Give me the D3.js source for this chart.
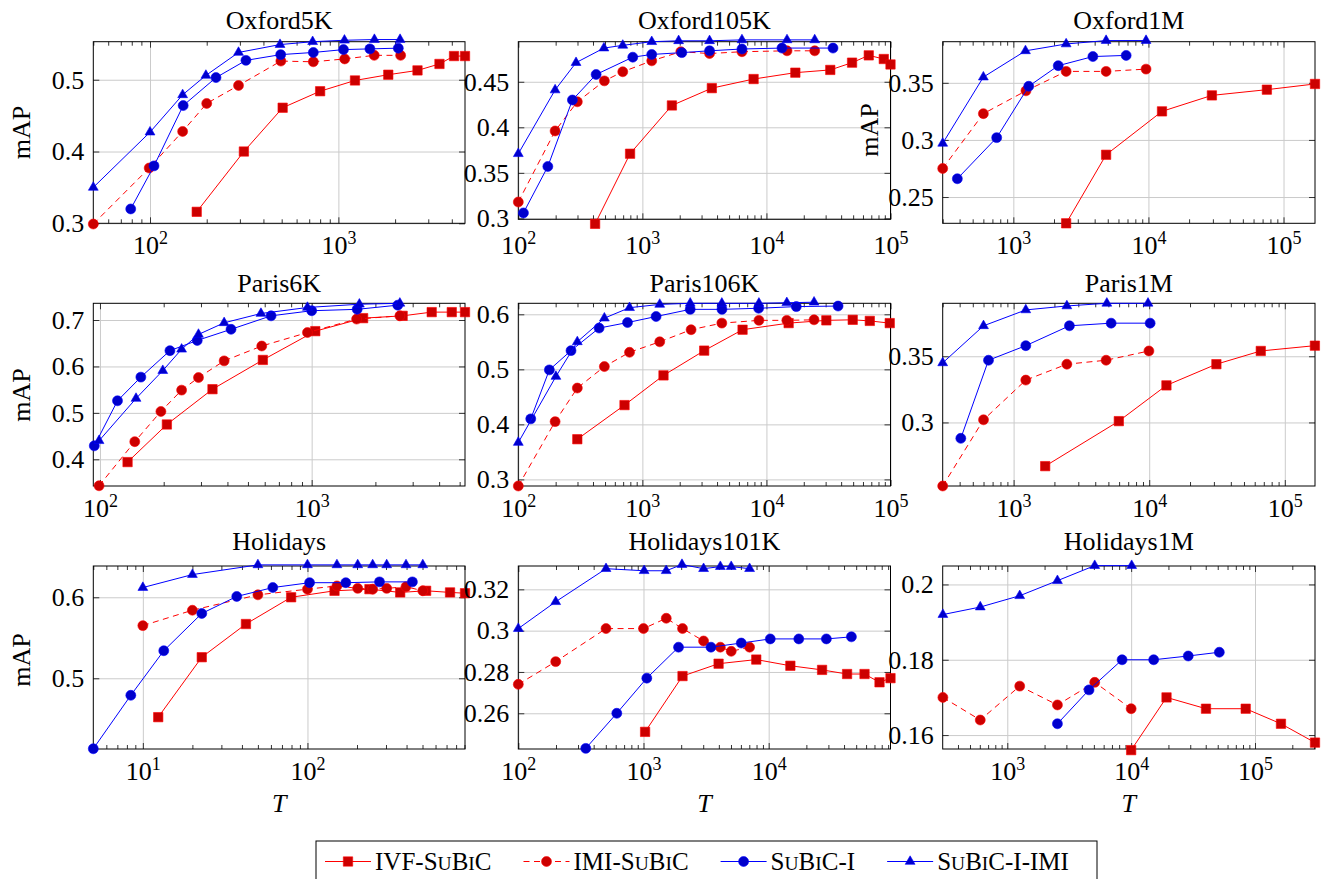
<!DOCTYPE html>
<html>
<head>
<meta charset="utf-8">
<script src="https://cdn.jsdelivr.net/npm/d3@7"></script>
<style>
  body { margin: 0; background: white; }
  text { font-family: "Liberation Serif", "Times New Roman", serif; }
</style>
</head>
<body>
<div id="container"></div>
<script>
let w = 1321;
let h = 879;

// ---- data ----
let panelTitles = ["Oxford5K", "Oxford105K", "Oxford1M", "Paris6K", "Paris106K", "Paris1M", "Holidays", "Holidays101K", "Holidays1M"];
let seriesNames = ["IVF-SuBiC", "IMI-SuBiC", "SuBiC-I", "SuBiC-I-IMI"];

let xDomains = [[50, 4700], [100, 100000], [300, 171000], [93, 5300], [100, 100000], [300, 167000], [5, 906], [100, 94000], [301, 305000]];
let yDomains = [[0.3, 0.553], [0.299, 0.494], [0.227, 0.386], [0.3425, 0.736], [0.288, 0.62], [0.252, 0.39], [0.4127, 0.6386], [0.2427, 0.3313], [0.1563, 0.2049]];
let yTickValues = [[0.3, 0.4, 0.5], [0.3, 0.35, 0.4, 0.45], [0.25, 0.3, 0.35], [0.4, 0.5, 0.6, 0.7], [0.3, 0.4, 0.5, 0.6], [0.3, 0.35], [0.5, 0.6], [0.26, 0.28, 0.3, 0.32], [0.16, 0.18, 0.2]];
let xTickExponents = [[2, 3], [2, 3, 4, 5], [3, 4, 5], [2, 3], [2, 3, 4, 5], [3, 4, 5], [1, 2], [2, 3, 4], [3, 4, 5]];

// each panel: [IVF-SuBiC, IMI-SuBiC, SuBiC-I, SuBiC-I-IMI], points are [T, mAP]
let oxford5K = [
  [[177,0.316],[315,0.400],[506,0.461],[800,0.484],[1225,0.499],[1840,0.507],[2630,0.513],[3440,0.522],[4110,0.533],[4700,0.533]],
  [[50,0.299],[99,0.377],[149,0.428],[200,0.467],[295,0.492],[495,0.526],[736,0.525],[1080,0.529],[1550,0.534],[2140,0.534]],
  [[79,0.320],[105,0.380],[150,0.464],[224,0.503],[323,0.527],[494,0.535],[736,0.538],[1064,0.542],[1470,0.543],[2080,0.544]],
  [[50,0.350],[100,0.427],[149,0.479],[198,0.506],[295,0.538],[490,0.549],[730,0.553],[1077,0.555],[1553,0.556],[2125,0.556]]
];
let oxford105K = [
  [[416,0.294],[796,0.371],[1730,0.424],[3630,0.443],[7880,0.453],[17100,0.460],[32700,0.463],[49000,0.471],[66800,0.479],[88300,0.475],[100000,0.469]],
  [[100,0.318],[198,0.396],[299,0.428],[494,0.451],[695,0.461],[1190,0.473],[2040,0.483],[3480,0.481],[6350,0.483],[14650,0.484],[24500,0.484]],
  [[110,0.306],[173,0.357],[273,0.430],[424,0.458],[837,0.477],[1190,0.480],[2080,0.482],[3480,0.484],[6350,0.486],[13340,0.487],[34400,0.487]],
  [[100,0.371],[198,0.441],[292,0.471],[490,0.487],[695,0.490],[1190,0.494],[1960,0.495],[3480,0.495],[6350,0.496],[14650,0.496],[24500,0.496]]
];
let oxford1M = [
  [[2460,0.227],[4860,0.287],[12600,0.325],[29500,0.339],[75300,0.344],[171000,0.349]],
  [[300,0.275],[600,0.323],[1240,0.343],[2460,0.360],[4860,0.360],[9600,0.362]],
  [[385,0.266],[753,0.302],[1300,0.347],[2150,0.365],[3880,0.373],[6840,0.374]],
  [[300,0.297],[600,0.355],[1230,0.378],[2460,0.384],[4860,0.387],[9600,0.387]]
];
let paris6K = [
  [[135,0.394],[207,0.475],[340,0.551],[588,0.614],[1040,0.676],[1750,0.704],[2690,0.709],[3690,0.717],[4590,0.717],[5300,0.717]],
  [[99,0.343],[146,0.438],[194,0.503],[243,0.549],[292,0.576],[386,0.612],[581,0.644],[955,0.673],[1630,0.702],[2610,0.709]],
  [[94,0.429],[121,0.526],[156,0.577],[214,0.634],[288,0.656],[416,0.680],[643,0.709],[1000,0.720],[1640,0.723],[2550,0.732]],
  [[99,0.440],[148,0.531],[198,0.591],[243,0.637],[292,0.669],[386,0.694],[576,0.714],[955,0.727],[1680,0.734],[2610,0.736]]
];
let paris106K = [
  [[299,0.373],[718,0.435],[1480,0.489],[3150,0.534],[6420,0.572],[15100,0.584],[30400,0.589],[49600,0.590],[68100,0.588],[98600,0.584]],
  [[100,0.288],[198,0.405],[299,0.466],[494,0.505],[788,0.531],[1380,0.550],[2470,0.572],[4370,0.584],[8700,0.589],[14600,0.589],[24200,0.590]],
  [[126,0.410],[178,0.499],[266,0.534],[448,0.575],[759,0.585],[1290,0.596],[2430,0.609],[4380,0.609],[8650,0.611],[17400,0.614],[37800,0.615]],
  [[100,0.367],[201,0.487],[299,0.550],[494,0.593],[788,0.612],[1380,0.618],[2430,0.620],[4370,0.620],[8700,0.620],[14600,0.621],[24200,0.622]]
];
let paris1M = [
  [[1710,0.267],[5970,0.301],[13400,0.328],[31300,0.344],[66500,0.354],[166700,0.358]],
  [[300,0.252],[600,0.302],[1230,0.332],[2470,0.344],[4810,0.347],[9950,0.354]],
  [[408,0.288],[653,0.347],[1230,0.358],[2580,0.373],[5240,0.375],[10160,0.375]],
  [[300,0.345],[600,0.373],[1230,0.385],[2470,0.388],[4870,0.390],[9800,0.390]]
];
let holidays = [
  [[12.4,0.452],[22.8,0.526],[42.3,0.567],[79.6,0.600],[146,0.608],[238,0.610],[366,0.606],[526,0.608],[735,0.606],[906,0.605]],
  [[10,0.565],[20,0.584],[50,0.603],[100,0.610],[151,0.614],[202,0.611],[249,0.610],[303,0.611],[397,0.613],[502,0.608]],
  [[5,0.413],[8.45,0.479],[13.4,0.534],[22.8,0.580],[37.2,0.601],[61.6,0.612],[103,0.618],[171,0.618],[274,0.619],[434,0.619]],
  [[10,0.612],[20,0.628],[50,0.640],[100,0.640],[151,0.640],[202,0.640],[249,0.640],[303,0.640],[397,0.640],[502,0.640]]
];
let holidays101K = [
  [[1030,0.251],[2050,0.278],[3980,0.284],[7960,0.286],[14900,0.283],[26700,0.281],[42300,0.279],[58300,0.279],[76800,0.275],[94000,0.277]],
  [[100,0.274],[199,0.285],[502,0.301],[1000,0.301],[1520,0.306],[2050,0.301],[3020,0.295],[4110,0.292],[5020,0.290],[7040,0.292]],
  [[346,0.243],[612,0.260],[1063,0.277],[1905,0.292],[3460,0.292],[6040,0.294],[10300,0.296],[17400,0.296],[28900,0.296],[45800,0.297]],
  [[100,0.301],[199,0.314],[502,0.330],[1012,0.329],[1518,0.329],[2030,0.332],[3020,0.330],[4110,0.331],[5020,0.331],[7040,0.330]]
];
let holidays1M = [
  [[10000,0.156],[19300,0.170],[40200,0.167],[84100,0.167],[162000,0.163],[305000,0.158]],
  [[302,0.170],[605,0.164],[1260,0.173],[2540,0.168],[5080,0.174],[10000,0.167]],
  [[2540,0.163],[4570,0.172],[8450,0.180],[15200,0.180],[28900,0.181],[51500,0.182]],
  [[302,0.192],[605,0.194],[1260,0.197],[2540,0.201],[5080,0.205],[10100,0.205]]
];
let panelData = [oxford5K, oxford105K, oxford1M, paris6K, paris106K, paris1M, holidays, holidays101K, holidays1M];

// ---- styles ----
let lineColors = ["#ff0000", "#ff0000", "#0000ff", "#0000ff"];
let markFills = ["#cc0000", "#cc0000", "#0000cc", "#0000cc"];
let dashes = [null, "6,4.5", null, null];
let symbols = [d3.symbol().type(d3.symbolSquare).size(88),
               d3.symbol().type(d3.symbolCircle).size(78),
               d3.symbol().type(d3.symbolCircle).size(78),
               d3.symbol().type(d3.symbolTriangle).size(42)];

// panel frames (pixels)
let colLeft = [93.3, 518.3, 942.7];
let colRight = [465, 890.5, 1315];
let rowTop = [41.7, 303.3, 566];
let rowBottom = [223.3, 486, 749];
let titleBaseline = [29.3, 291.7, 550];

let viz = d3.select("#container")
  .append("svg")
  .attr("width", w)
  .attr("height", h)
  .style("background-color", "white");

function smallCaps(sel, str, size) {
  for (let ch of str) {
    if (ch >= "a" && ch <= "z") {
      sel.append("tspan").attr("font-size", size * 0.78).text(ch.toUpperCase());
    } else {
      sel.append("tspan").attr("font-size", size).text(ch);
    }
  }
}

function minorTicks(domain) {
  let out = [];
  let k0 = Math.floor(Math.log10(domain[0]));
  let k1 = Math.ceil(Math.log10(domain[1]));
  for (let k = k0; k <= k1; k++) {
    for (let m = 2; m <= 9; m++) {
      let v = m * Math.pow(10, k);
      if (v >= domain[0] && v <= domain[1]) out.push(v);
    }
  }
  return out;
}

panelData.forEach(function (series, i) {
  let col = i % 3;
  let row = Math.floor(i / 3);
  let x0 = colLeft[col], x1 = colRight[col];
  let y0 = rowTop[row];
  let y1 = (i === 1) ? 219.3 : rowBottom[row];

  let xScale = d3.scaleLog().domain(xDomains[i]).range([x0, x1]);
  let yScale = d3.scaleLinear().domain(yDomains[i]).range([y1, y0]);
  let majors = xTickExponents[i].map(k => Math.pow(10, k));
  let minors = minorTicks(xDomains[i]);

  let g = viz.append("g").attr("class", "panel");

  // grid
  g.append("g")
    .attr("transform", "translate(0," + y1 + ")")
    .call(d3.axisBottom(xScale).tickValues(majors).tickSize(-(y1 - y0)).tickFormat(""))
    .call(a => a.select(".domain").remove())
    .selectAll("line").attr("stroke", "#cbcbcb");
  g.append("g")
    .attr("transform", "translate(" + x0 + ",0)")
    .call(d3.axisLeft(yScale).tickValues(yTickValues[i]).tickSize(-(x1 - x0)).tickFormat(""))
    .call(a => a.select(".domain").remove())
    .selectAll("line").attr("stroke", "#cbcbcb");

  // inner ticks on all four sides
  let tickSpecs = [
    [d3.axisBottom, xScale, majors, 6, "translate(0," + y1 + ")"],
    [d3.axisBottom, xScale, minors, 4, "translate(0," + y1 + ")"],
    [d3.axisTop, xScale, majors, 6, "translate(0," + y0 + ")"],
    [d3.axisTop, xScale, minors, 4, "translate(0," + y0 + ")"],
    [d3.axisLeft, yScale, yTickValues[i], 6, "translate(" + x0 + ",0)"],
    [d3.axisRight, yScale, yTickValues[i], 6, "translate(" + x1 + ",0)"]
  ];
  tickSpecs.forEach(function (t) {
    g.append("g")
      .attr("transform", t[4])
      .call(t[0](t[1]).tickValues(t[2]).tickSize(-t[3]).tickFormat(""))
      .call(a => a.select(".domain").remove())
      .selectAll("line").attr("stroke", "#333");
  });

  // frame
  g.append("rect")
    .attr("x", x0).attr("y", y0)
    .attr("width", x1 - x0).attr("height", y1 - y0)
    .attr("fill", "none").attr("stroke", "black").attr("stroke-width", 1);

  // y tick labels
  g.append("g")
    .attr("transform", "translate(" + x0 + ",0)")
    .call(d3.axisLeft(yScale).tickValues(yTickValues[i]).tickSize(0).tickPadding(9).tickFormat(d => String(d)))
    .call(a => a.select(".domain").remove())
    .attr("font-size", 26)
    .attr("font-family", "Liberation Serif, serif");

  // x tick labels 10^k
  g.append("g")
    .attr("transform", "translate(0," + rowBottom[row] + ")")
    .call(d3.axisBottom(xScale).tickValues(majors).tickSize(0).tickPadding(12.5))
    .call(a => a.select(".domain").remove())
    .attr("font-size", 26)
    .attr("font-family", "Liberation Serif, serif")
    .selectAll(".tick text")
    .each(function (d) {
      let t = d3.select(this);
      t.text(null);
      t.append("tspan").text("10");
      t.append("tspan").attr("dy", -10).attr("font-size", 18).text(Math.round(Math.log10(d)));
    });

  // title
  g.append("text")
    .attr("x", (x0 + x1) / 2)
    .attr("y", titleBaseline[row])
    .attr("text-anchor", "middle")
    .attr("font-size", 26)
    .text(panelTitles[i]);

  // series
  let line = d3.line().x(d => xScale(d[0])).y(d => yScale(d[1]));
  series.forEach(function (pts, s) {
    let sg = g.append("g").attr("class", "series");
    sg.append("path")
      .datum(pts)
      .attr("d", line)
      .attr("fill", "none")
      .attr("stroke", lineColors[s])
      .attr("stroke-width", 1)
      .attr("stroke-dasharray", dashes[s]);
    sg.selectAll(".mark").data(pts).enter()
      .append("path")
      .attr("class", "mark")
      .attr("d", symbols[s])
      .attr("transform", d => "translate(" + xScale(d[0]) + "," + yScale(d[1]) + ")")
      .attr("fill", markFills[s])
      .attr("stroke", lineColors[s])
      .attr("stroke-width", 0.6);
  });
});

// y labels "mAP"
let mapLabelSpots = [[30, 132.5], [30, 395], [30, 660], [878, 130]];
mapLabelSpots.forEach(function (p) {
  viz.append("text")
    .attr("transform", "translate(" + p[0] + "," + p[1] + ") rotate(-90)")
    .attr("text-anchor", "middle")
    .attr("font-size", 26)
    .text("mAP");
});

// x labels "T"
[0, 1, 2].forEach(function (c) {
  viz.append("text")
    .attr("x", (colLeft[c] + colRight[c]) / 2)
    .attr("y", 812)
    .attr("text-anchor", "middle")
    .attr("font-size", 26)
    .attr("font-style", "italic")
    .text("T");
});

// legend
let legend = viz.append("g").attr("class", "legend");
legend.append("rect")
  .attr("x", 316).attr("y", 841)
  .attr("width", 781).attr("height", 60)
  .attr("fill", "white").attr("stroke", "black").attr("stroke-width", 1);

let lx = 325;
let ly = 861.5;
seriesNames.forEach(function (name, s) {
  legend.append("line")
    .attr("x1", lx).attr("x2", lx + 46)
    .attr("y1", ly).attr("y2", ly)
    .attr("stroke", lineColors[s])
    .attr("stroke-width", 1)
    .attr("stroke-dasharray", dashes[s]);
  legend.append("path")
    .attr("d", symbols[s])
    .attr("transform", "translate(" + (lx + 23) + "," + ly + ")")
    .attr("fill", markFills[s])
    .attr("stroke", lineColors[s])
    .attr("stroke-width", 0.6);
  let t = legend.append("text")
    .attr("x", lx + 50)
    .attr("y", ly + 8.5);
  smallCaps(t, name, 25);
  lx = lx + 50 + t.node().getComputedTextLength() + 32;
});
</script>
</body>
</html>
